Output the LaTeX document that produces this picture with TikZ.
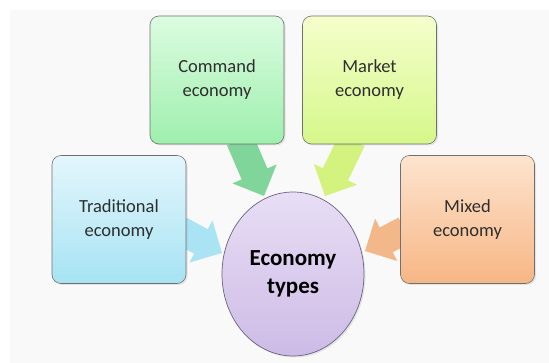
\documentclass[tikz,border=0pt]{standalone}
\usepackage{fontspec}
\setmainfont{Carlito}
\usetikzlibrary{calc,shadows,shapes.geometric}
\definecolor{bgpanel}{HTML}{F9F9F9}
\definecolor{cmdtop}{HTML}{DCFCE0}\definecolor{cmdbot}{HTML}{9EEFAE}
\definecolor{mkttop}{HTML}{F4FFCC}\definecolor{mktbot}{HTML}{D6F78A}
\definecolor{tratop}{HTML}{E4F6FC}\definecolor{trabot}{HTML}{A6E3F3}
\definecolor{mixtop}{HTML}{FDE4CF}\definecolor{mixbot}{HTML}{F7B684}
\definecolor{ecotop}{HTML}{E8DEF5}\definecolor{ecobot}{HTML}{CDBBE6}
\definecolor{boxline}{HTML}{707070}
\definecolor{ecoline}{HTML}{6B6480}
\definecolor{arrgreen}{HTML}{80D69A}
\definecolor{arryellow}{HTML}{D4F27E}
\definecolor{arrblue}{HTML}{AAE3F3}
\definecolor{arrorange}{HTML}{F2B88A}
\definecolor{txt}{HTML}{2E2E2E}
\newcommand\fatarrow[3]{%
  \coordinate (fab) at ($(#2)!24pt!(#1)$);
  \fill[#3] ($(#1)!14pt!90:(#2)$) -- ($(fab)!14pt!-90:(#1)$) -- ($(fab)!24pt!-90:(#1)$)
    -- (#2) -- ($(fab)!24pt!90:(#1)$) -- ($(fab)!14pt!90:(#1)$) -- ($(#1)!14pt!-90:(#2)$) -- cycle;}
\tikzset{
  ebox/.style={rectangle, rounded corners=9pt, draw=boxline, line width=0.6pt,
    minimum width=134pt, minimum height=128pt, align=center, text=txt,
    font=\fontsize{18.5}{24}\selectfont, drop shadow={opacity=0.18, shadow xshift=1.5pt, shadow yshift=-1.5pt}},
  ecoell/.style={ellipse, draw=ecoline, line width=0.7pt, top color=ecotop, bottom color=ecobot,
    minimum width=142pt, minimum height=164pt, align=center, inner sep=0pt,
    font=\bfseries\fontsize{23}{28}\selectfont,
    drop shadow={opacity=0.18, shadow xshift=1.5pt, shadow yshift=-1.5pt}}
}
\begin{document}
\begin{tikzpicture}[x=1pt,y=-1pt]
\useasboundingbox (0,0) rectangle (549,363);
\fill[white] (0,0) rectangle (549,363);
\fill[bgpanel] (10,10) rectangle (549,363);
% arrow end points
\coordinate (gs) at (240,140);
\coordinate (gt) at (264,196);
\coordinate (ys) at (352,140);
\coordinate (yt) at (325,196);
\coordinate (bs) at (180,230);
\coordinate (bt) at (222,253);
\coordinate (os) at (405,230);
\coordinate (ot) at (365,251);
\fatarrow{gs}{gt}{arrgreen}
\fatarrow{ys}{yt}{arryellow}
\fatarrow{bs}{bt}{arrblue}
\fatarrow{os}{ot}{arrorange}
% boxes
\node[ebox, top color=cmdtop, bottom color=cmdbot] (cmd) at (217,80) {Command\\economy};
\node[ebox, top color=mkttop, bottom color=mktbot] (mkt) at (369.5,80) {Market\\economy};
\node[ebox, top color=tratop, bottom color=trabot] (trad) at (119,219.5) {Traditional\\economy};
\node[ebox, top color=mixtop, bottom color=mixbot] (mix) at (467.5,219.5) {Mixed\\economy};
\node[ecoell] (eco) at (293,274) {Economy\\types};
\end{tikzpicture}
\end{document}
